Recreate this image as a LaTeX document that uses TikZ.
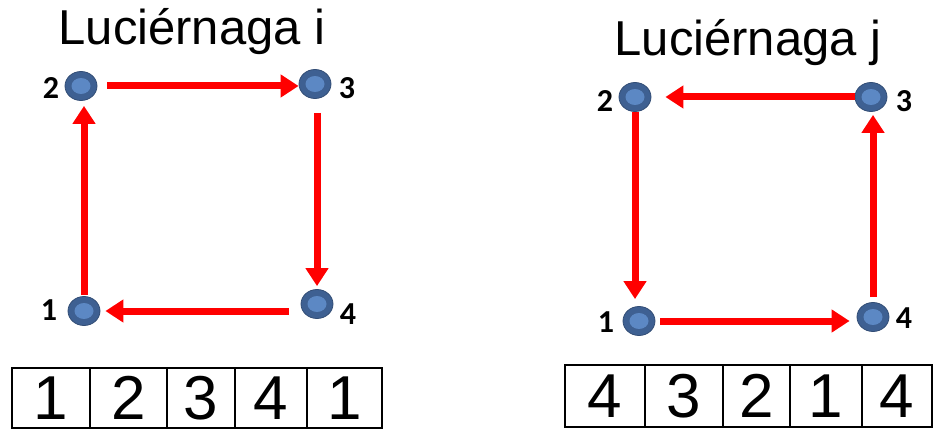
\documentclass[tikz,border=0pt]{standalone}
\usepackage{fontspec}
\setmainfont{Liberation Sans}
\newfontfamily\labelfont{Carlito}
\usetikzlibrary{arrows.meta,shapes.geometric}
\definecolor{dotouter}{RGB}{62,96,146}
\definecolor{dotinner}{RGB}{92,136,196}
\tikzset{
  dot/.style={ellipse,minimum width=32pt,minimum height=29pt,inner sep=0pt,
    fill=dotouter,draw=dotouter!80!black,line width=0.8pt,
    path picture={\fill[dotinner] (path picture bounding box.center) ellipse (9.5pt and 8pt);}},
  num/.style={font=\labelfont\bfseries\fontsize{32}{32}\selectfont,inner sep=0pt},
  arr/.style={red,line width=7pt,-{Triangle[width=22pt,length=18pt]}},
  title/.style={font=\fontsize{49}{49}\selectfont,inner sep=0pt,anchor=base},
  cell/.style={draw=black,line width=1.6pt,inner sep=0pt,outer sep=0pt,
    font=\fontsize{62}{62}\selectfont}
}
\begin{document}
\begin{tikzpicture}[x=1pt,y=-1pt]
\useasboundingbox (0,0) rectangle (934,430);

% firefly i
\node[title] (ti) at (192,45) {Luciérnaga i};
\node[dot] (i2) at (81,86) {};
\node[dot] (i3) at (315,84) {};
\node[dot] (i4) at (317,304) {};
\node[dot] (i1) at (84,311) {};
\node[num] (l2) at (51,88) {2};
\node[num] (l3) at (347,88) {3};
\node[num] (l1) at (49,310) {1};
\node[num] (l4) at (348,314) {4};
\draw[arr,shorten <=10pt] (i2.east) -- (i2.east -| i3.west);
\draw[arr,shorten <=14pt,shorten >=3pt] (i3.south -| i4.north) -- (i4.north);
\draw[arr,shorten <=12pt,shorten >=5pt] (i4.west |- i1.east) -- (i1.east);
\draw[arr,shorten <=1pt,shorten >=5pt] (i1.north) -- (i1.north |- i2.south);

% tour of firefly i
\node[cell,minimum width=78pt,minimum height=60pt] (a1) at (51,398) {1};
\node[cell,minimum width=77pt,minimum height=60pt] (a2) at (128.5,398) {2};
\node[cell,minimum width=68pt,minimum height=60pt] (a3) at (201,398) {3};
\node[cell,minimum width=72pt,minimum height=60pt] (a4) at (271,398) {4};
\node[cell,minimum width=75pt,minimum height=60pt] (a5) at (344.5,398) {1};

% firefly j
\node[title] (tj) at (748,56) {Luciérnaga j};
\node[dot] (j2) at (635,97) {};
\node[dot] (j3) at (871,97) {};
\node[dot] (j4) at (873,317) {};
\node[dot] (j1) at (639,321) {};
\node[num] (m2) at (605,101) {2};
\node[num] (m3) at (904,101) {3};
\node[num] (m1) at (606,322) {1};
\node[num] (m4) at (904,318) {4};
\draw[arr,shorten >=14pt] (j3.west) -- (j2.east);
\draw[arr,shorten >=7pt] (j2.south) -- (j2.south |- j1.north);
\draw[arr,shorten <=5pt,shorten >=7pt] (j1.east) -- (j1.east -| j4.west);
\draw[arr,shorten <=5pt,shorten >=3pt] (j4.north) -- (j4.north |- j3.south);

% tour of firefly j
\node[cell,minimum width=80pt,minimum height=62pt] (b1) at (605,396) {4};
\node[cell,minimum width=78pt,minimum height=62pt] (b2) at (684,396) {3};
\node[cell,minimum width=67pt,minimum height=62pt] (b3) at (756.5,396) {2};
\node[cell,minimum width=72pt,minimum height=62pt] (b4) at (826,396) {1};
\node[cell,minimum width=70pt,minimum height=62pt] (b5) at (897,396) {4};
\end{tikzpicture}
\end{document}
